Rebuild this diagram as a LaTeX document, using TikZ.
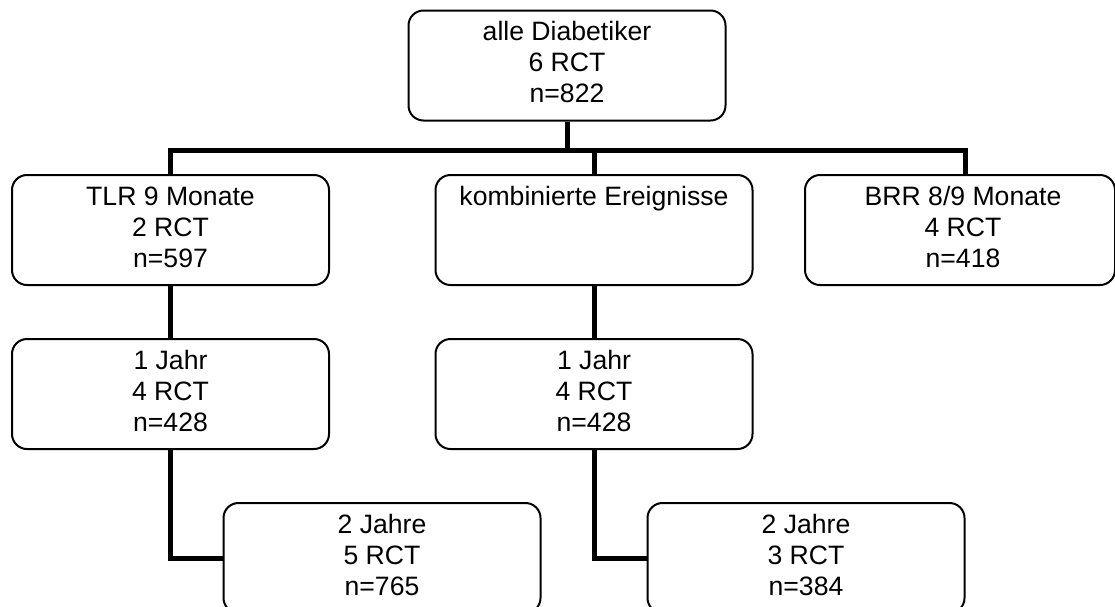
\documentclass[tikz,border=0pt]{standalone}
\usepackage{fontspec}
\setmainfont{Liberation Sans}
\tikzset{
  box/.style={draw, line width=2pt, rounded corners=15pt, minimum width=317pt, minimum height=110pt, inner sep=0pt},
  txt/.style={align=center, inner sep=0pt, anchor=north, font=\fontsize{26.6}{31}\selectfont},
  conn/.style={line width=5pt}
}
\begin{document}
\begin{tikzpicture}[x=1pt,y=-1pt]
\useasboundingbox (0,0) rectangle (1115,606);
% boxes
\node[box] (top) at (567,65.5) {};
\node[box] (l2) at (170.5,230) {};
\node[box] (m2) at (594,230) {};
\node[box, minimum width=310pt] (r2) at (960,230) {};
\node[box] (l3) at (170.5,394) {};
\node[box] (m3) at (594,394) {};
\node[box] (l4) at (382,558) {};
\node[box] (m4) at (806,558) {};
% texts
\node[txt] (topt) at ([yshift=-9.3pt]top.north) {\strut alle Diabetiker\\6 RCT\\n=822};
\node[txt] (l2t) at ([yshift=-9.3pt]l2.north) {\strut TLR 9 Monate\\2 RCT\\n=597};
\node[txt] (m2t) at ([yshift=-9.3pt]m2.north) {\strut kombinierte Ereignisse};
\node[txt] (r2t) at ([yshift=-9.3pt,xshift=3pt]r2.north) {\strut BRR 8/9 Monate\\4 RCT\\n=418};
\node[txt] (l3t) at ([yshift=-9.3pt]l3.north) {\strut 1 Jahr\\4 RCT\\n=428};
\node[txt] (m3t) at ([yshift=-9.3pt]m3.north) {\strut 1 Jahr\\4 RCT\\n=428};
\node[txt] (l4t) at ([yshift=-9.3pt]l4.north) {\strut 2 Jahre\\5 RCT\\n=765};
\node[txt] (m4t) at ([yshift=-9.3pt]m4.north) {\strut 2 Jahre\\3 RCT\\n=384};
% connectors
\coordinate (bus) at (594,150.5);
\draw[conn] (top.south) -- (top.south |- bus);
\draw[conn] (l2.north) |- (bus) -| ([xshift=5pt]r2.north);
\draw[conn] (bus) -- (m2.north);
\draw[conn] (l2.south) -- (l3.north);
\draw[conn] (l3.south) |- (l4.west);
\draw[conn] (m2.south) -- (m3.north);
\draw[conn] (m3.south) |- (m4.west);
\end{tikzpicture}
\end{document}
